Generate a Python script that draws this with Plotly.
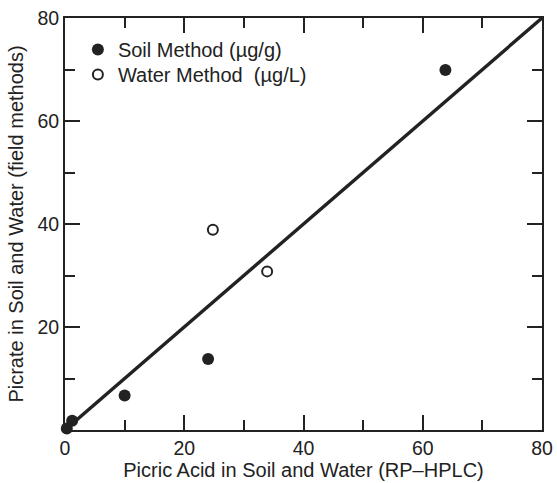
import plotly.graph_objects as go

# Data
soil_x = [0.3, 1.2, 10, 24, 63.8]
soil_y = [0.3, 1.8, 6.7, 13.8, 69.9]
water_x = [24.8, 33.9]
water_y = [38.9, 30.8]
fit_x = [0, 80]
fit_y = [0, 80]

x_ticks = [0, 20, 40, 60, 80]
y_ticks = [20, 40, 60, 80]
minor_ticks = [10, 30, 50, 70]

ink = "#222222"
font = "Liberation Sans, Arial, sans-serif"

fig = go.Figure()
fig.add_trace(go.Scatter(x=fit_x, y=fit_y, mode="lines",
                         line=dict(color=ink, width=3.4), showlegend=False,
                         cliponaxis=False))
fig.add_trace(go.Scatter(x=soil_x, y=soil_y, mode="markers", name="Soil Method (µg/g)",
                         marker=dict(symbol="circle", size=12, color=ink),
                         cliponaxis=False, legend="legend"))
fig.add_trace(go.Scatter(x=water_x, y=water_y, mode="markers", name="Water Method  (µg/L)",
                         marker=dict(symbol="circle-open", size=10, color=ink,
                                     line=dict(width=2, color=ink)),
                         cliponaxis=False, legend="legend2"))

axis_common = dict(range=[0, 80], showgrid=False, zeroline=False, automargin=False,
                   showline=True, linecolor=ink, linewidth=2, mirror="ticks",
                   ticks="inside", ticklen=15, tickwidth=2, tickcolor=ink,
                   tickfont=dict(size=19.5, color=ink, family=font))

legend_common = dict(xanchor="left", yanchor="top", bgcolor="rgba(0,0,0,0)",
                     borderwidth=0, font=dict(size=20, color=ink, family=font))

fig.update_layout(
    width=557, height=483,
    margin=dict(l=65, r=15, t=18, b=53, autoexpand=False),
    paper_bgcolor="white", plot_bgcolor="white",
    font=dict(family=font, color=ink),
    xaxis=dict(**axis_common, tickvals=x_ticks,
               minor=dict(tickvals=minor_ticks, ticks="inside", ticklen=10,
                          tickwidth=2, tickcolor=ink),
               title=dict(text="Picric Acid in Soil and Water (RP–HPLC)",
                          font=dict(size=20, color=ink), standoff=4)),
    yaxis=dict(**axis_common, tickvals=y_ticks,
               minor=dict(tickvals=minor_ticks, ticks="inside", ticklen=10,
                          tickwidth=2, tickcolor=ink),
               title=dict(text="Picrate in Soil and Water (field methods)",
                          font=dict(size=20, color=ink), standoff=8)),
    legend=dict(x=0.027, y=0.971, **legend_common),
    legend2=dict(x=0.027, y=0.910, **legend_common),
)

fig.write_html("out.html")
